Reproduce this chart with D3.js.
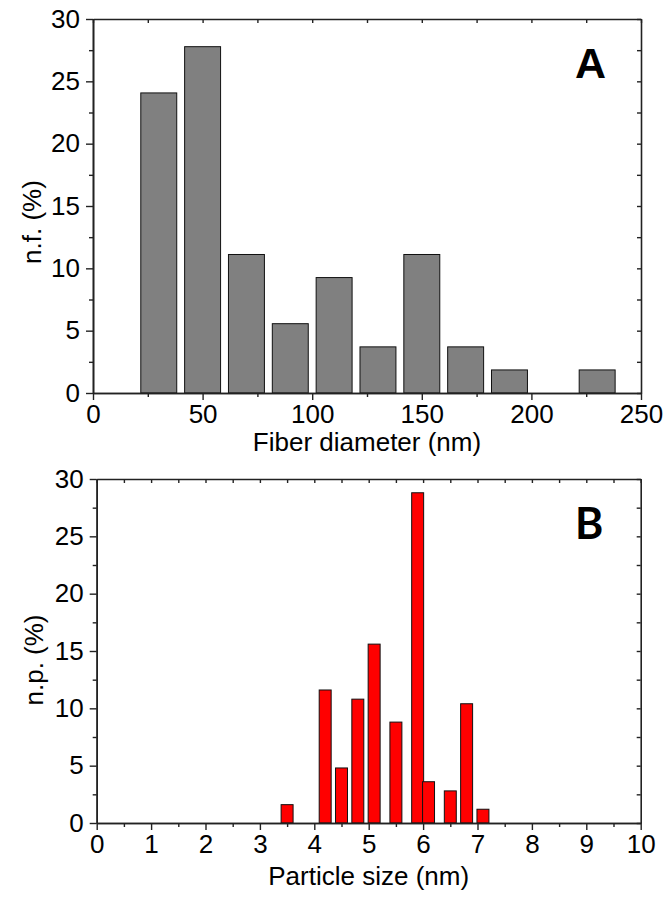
<!DOCTYPE html>
<html>
<head>
<meta charset="utf-8">
<script src="https://cdn.jsdelivr.net/npm/d3@7"></script>
<style>
  body { margin: 0; background: #fff; }
  svg text { font-family: Arial, "Liberation Sans", sans-serif; fill: #000; }
</style>
</head>
<body>
<div id="chart"></div>
<script>
// Panel A: fiber diameter distribution
const fiberCenters = [30, 50, 70, 90, 110, 130, 150, 170, 190, 230];
const fiberValues = [24.07, 27.78, 11.11, 5.56, 9.26, 3.70, 11.11, 3.70, 1.85, 1.85];
const fiberTicks = [0, 50, 100, 150, 200, 250];

// Panel B: particle size distribution
const particleCenters = [3.5, 4.2, 4.5, 4.8, 5.1, 5.5, 5.9, 6.1, 6.5, 6.8, 7.1];
const particleValues = [1.6, 11.6, 4.8, 10.8, 15.6, 8.8, 28.8, 3.6, 2.8, 10.4, 1.2];
const particleTicks = [0, 1, 2, 3, 4, 5, 6, 7, 8, 9, 10];

const yTicks = [0, 5, 10, 15, 20, 25, 30];

const svg = d3.select('#chart')
  .append('svg')
  .attr('width', 668)
  .attr('height', 900);

function drawPanel(opts) {
  const x = d3.scaleLinear().domain(opts.xDomain).range([opts.left, opts.right]);
  const y = d3.scaleLinear().domain([0, 30]).range([opts.bottom, opts.top]);
  const g = svg.append('g');

  // bars
  g.selectAll('.bar')
    .data(opts.centers.map((c, i) => ({ c, v: opts.values[i] })))
    .enter().append('rect')
      .attr('x', d => x(d.c - opts.barWidth / 2))
      .attr('width', d => x(d.c + opts.barWidth / 2) - x(d.c - opts.barWidth / 2))
      .attr('y', d => y(d.v))
      .attr('height', d => y(0) - y(d.v))
      .attr('fill', opts.fill)
      .attr('stroke', '#111')
      .attr('stroke-width', 1);

  const xMinor = d3.range(opts.xDomain[0] + opts.xMinorStep, opts.xDomain[1], opts.xMinorStep * 2);
  const yMinor = d3.range(2.5, 30, 5);

  // minor ticks (outward on bottom/left)
  g.append('g')
    .attr('transform', `translate(0,${opts.bottom})`)
    .call(d3.axisBottom(x).tickValues(xMinor).tickSize(4).tickFormat('').tickSizeOuter(0));
  g.append('g')
    .attr('transform', `translate(${opts.left},0)`)
    .call(d3.axisLeft(y).tickValues(yMinor).tickSize(4).tickFormat('').tickSizeOuter(0));

  // inward ticks on top/right
  g.append('g')
    .attr('transform', `translate(0,${opts.top})`)
    .call(d3.axisTop(x).tickValues(opts.xTicks.concat(xMinor)).tickSize(-4).tickFormat('').tickSizeOuter(0));
  g.append('g')
    .attr('transform', `translate(${opts.right},0)`)
    .call(d3.axisRight(y).tickValues(yTicks.concat(yMinor)).tickSize(-4).tickFormat('').tickSizeOuter(0));

  // major axes
  g.append('g')
    .attr('transform', `translate(0,${opts.bottom})`)
    .call(d3.axisBottom(x).tickValues(opts.xTicks).tickSize(7).tickPadding(5).tickSizeOuter(0));
  g.append('g')
    .attr('transform', `translate(${opts.left},0)`)
    .call(d3.axisLeft(y).tickValues(yTicks).tickSize(7).tickPadding(6).tickSizeOuter(0));

  g.selectAll('.domain').attr('stroke', '#222').attr('stroke-width', 1.6);
  g.selectAll('.tick line').attr('stroke', '#222').attr('stroke-width', 1.4);
  g.selectAll('.tick text')
    .attr('font-family', 'Arial, "Liberation Sans", sans-serif')
    .attr('font-size', 26)
    .attr('fill', '#000');
  g.selectAll('g').attr('font-family', null).attr('font-size', null);

  // axis titles
  g.append('text')
    .attr('x', (opts.left + opts.right) / 2)
    .attr('y', opts.bottom + opts.xTitleDy)
    .attr('text-anchor', 'middle')
    .attr('font-size', 26)
    .text(opts.xTitle);

  g.append('text')
    .attr('transform', `translate(${opts.yTitleX},${opts.yTitleY}) rotate(-90)`)
    .attr('text-anchor', 'middle')
    .attr('font-size', 26)
    .text(opts.yTitle);

  // panel letter
  g.append('text')
    .attr('x', 575)
    .attr('y', opts.top + opts.letterDy)
    .style('font-family', opts.letterFont)
    .style('font-weight', 'bold')
    .style('font-size', '43px')
    .text(opts.letter);
}

drawPanel({
  left: 93, right: 641, top: 19, bottom: 393,
  xDomain: [0, 250], xTicks: fiberTicks, xMinorStep: 25,
  centers: fiberCenters, values: fiberValues, barWidth: 16.4,
  fill: '#808080',
  xTitle: 'Fiber diameter (nm)', xTitleDy: 58, yTitle: 'n.f. (%)',
  yTitleX: 41, yTitleY: 222,
  letter: 'A', letterDy: 59, letterFont: 'Arial, "Liberation Sans", sans-serif'
});

drawPanel({
  left: 96.7, right: 640.7, top: 479, bottom: 823,
  xDomain: [0, 10], xTicks: particleTicks, xMinorStep: 0.5,
  centers: particleCenters, values: particleValues, barWidth: 0.22,
  fill: '#ff0000',
  xTitle: 'Particle size (nm)', xTitleDy: 62, yTitle: 'n.p. (%)',
  yTitleX: 43, yTitleY: 660,
  letter: 'B', letterDy: 60, letterFont: 'Lato, "Open Sans", sans-serif'
});
</script>
</body>
</html>
